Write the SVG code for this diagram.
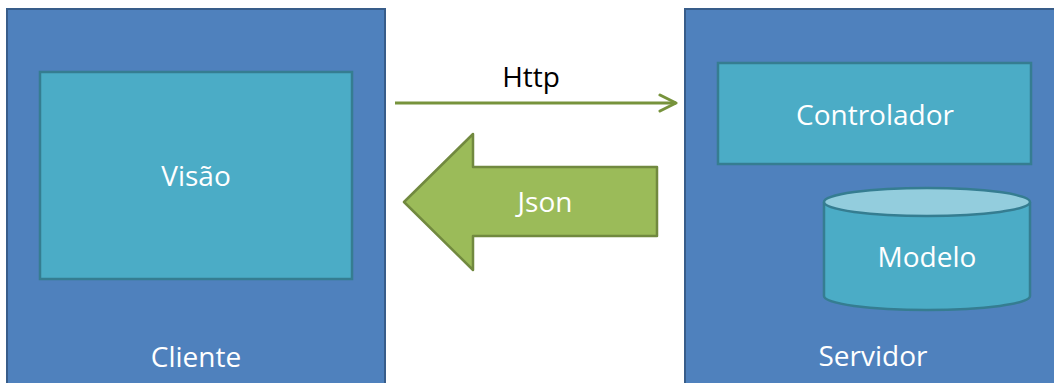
<svg xmlns="http://www.w3.org/2000/svg" width="1054" height="383" viewBox="0 0 1054 383">
  <style>
    .outer { fill: #4f81bd; stroke: #385d8a; stroke-width: 2; }
    .inner { fill: #4bacc6; stroke: #357d91; stroke-width: 2.5; }
    .lbl { font-family: "Open Sans", "Noto Sans", sans-serif; font-size: 28px; fill: #ffffff; text-anchor: middle; }
    .dark { fill: #000000; }
  </style>
  <defs>
    <marker id="chevron" viewBox="0 0 20 20" refX="18" refY="10" markerWidth="20" markerHeight="20" markerUnits="userSpaceOnUse" orient="auto">
      <path d="M2,2 L18,10 L2,18" fill="none" stroke="#77933c" stroke-width="3" stroke-linecap="round" stroke-linejoin="round"/>
    </marker>
  </defs>

  <g id="cliente">
    <rect class="outer" x="7" y="9" width="378" height="380"/>
    <text class="lbl" x="196" y="367">Cliente</text>
  </g>
  <g id="visao">
    <rect class="inner" x="40" y="72" width="312" height="207"/>
    <text class="lbl" x="196" y="186">Visão</text>
  </g>

  <g id="servidor">
    <rect class="outer" x="685" y="9" width="375" height="380"/>
    <text class="lbl" x="873" y="366">Servidor</text>
  </g>
  <g id="controlador">
    <rect class="inner" x="718" y="63" width="313" height="101"/>
    <text class="lbl" x="875" y="125">Controlador</text>
  </g>
  <g id="modelo">
    <path class="inner" d="M824,202 L824,296 A103,14 0 0 0 1030,296 L1030,202"/>
    <ellipse cx="927" cy="202" rx="103" ry="14" fill="#93cddd" stroke="#357d91" stroke-width="2.5"/>
    <text class="lbl" x="927" y="267">Modelo</text>
  </g>

  <g id="connectors">
    <line x1="395" y1="103" x2="676" y2="103" stroke="#77933c" stroke-width="3" marker-end="url(#chevron)"/>
    <text class="lbl dark" x="531" y="87">Http</text>
    <polygon points="404,202 473,134 473,167 657,167 657,236 473,236 473,270" fill="#9bbb59" stroke="#71893f" stroke-width="2.5" stroke-linejoin="round"/>
    <text class="lbl" x="545" y="212">Json</text>
  </g>
</svg>
